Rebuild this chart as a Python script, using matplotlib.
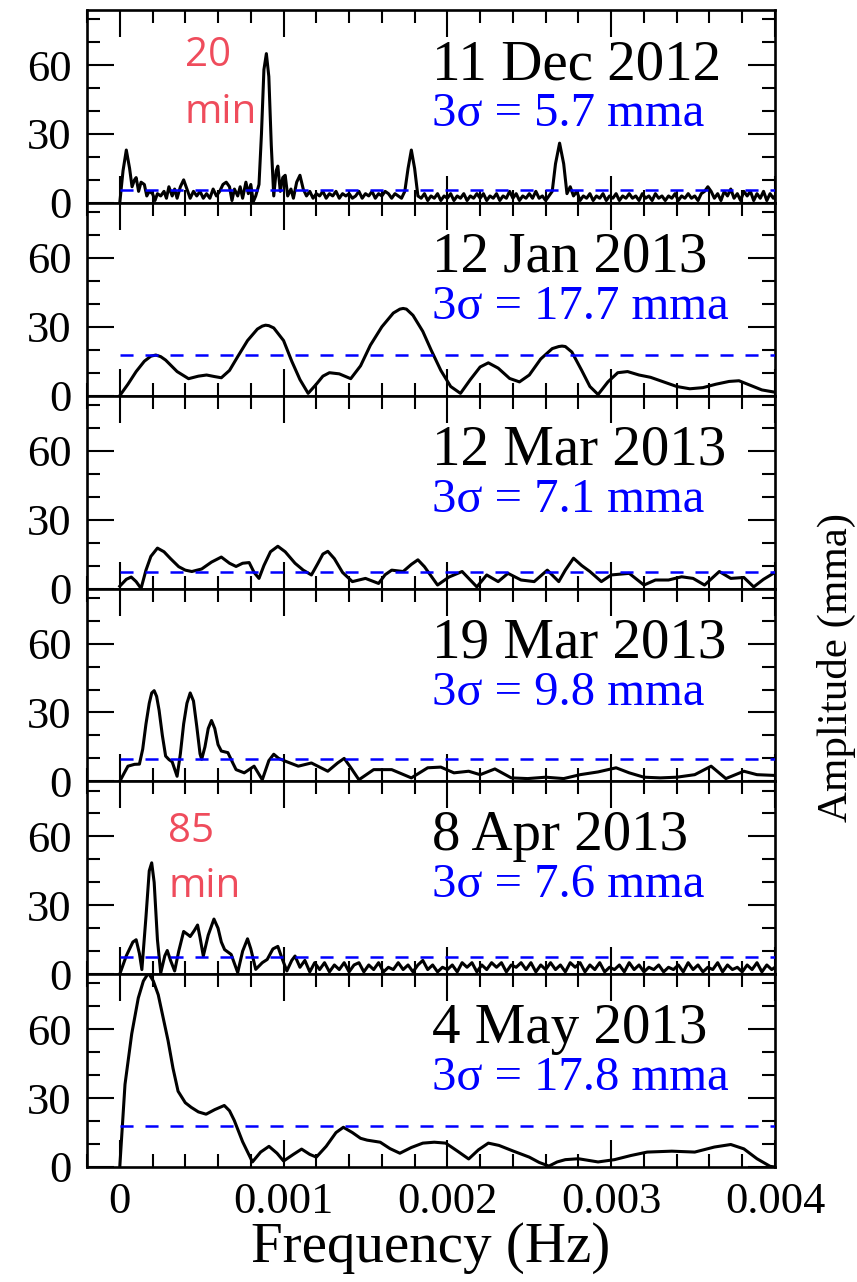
import numpy as np
import matplotlib
matplotlib.use("Agg")
import matplotlib.pyplot as plt
from matplotlib.ticker import MultipleLocator, FuncFormatter

# ---------------------------------------------------------------------------
# Amplitude spectra (frequency in mHz, amplitude in mma) for six nights
# ---------------------------------------------------------------------------
dates = ["11 Dec 2012", "12 Jan 2013", "12 Mar 2013",
         "19 Mar 2013", "8 Apr 2013", "4 May 2013"]
sigma3 = [5.7, 17.7, 7.1, 9.8, 7.6, 17.8]

f_dec11 = [0.00, 0.02, 0.04, 0.06, 0.075, 0.09, 0.10, 0.115, 0.13, 0.15, 0.165, 0.18, 0.20,
           0.215, 0.23, 0.25, 0.27, 0.285, 0.30, 0.32, 0.335, 0.35, 0.37, 0.39, 0.41, 0.43,
           0.45, 0.47, 0.49, 0.51, 0.53, 0.55, 0.57, 0.59, 0.61, 0.63, 0.65, 0.67, 0.685,
           0.70, 0.72, 0.735, 0.75, 0.77, 0.785, 0.80, 0.815, 0.83, 0.85, 0.865, 0.88,
           0.895, 0.91, 0.925, 0.94, 0.955, 0.965, 0.98, 0.995, 1.01, 1.025, 1.045, 1.06,
           1.08, 1.10, 1.12, 1.14, 1.16, 1.18, 1.20, 1.22, 1.24, 1.26, 1.28, 1.30, 1.32,
           1.34, 1.36, 1.38, 1.40, 1.42, 1.44, 1.46, 1.48, 1.50, 1.52, 1.54, 1.56, 1.58,
           1.60, 1.62, 1.64, 1.66, 1.68, 1.70, 1.72, 1.74, 1.76, 1.78, 1.80, 1.82, 1.84,
           1.86, 1.88, 1.90, 1.92, 1.94, 1.96, 1.98, 2.00, 2.02, 2.04, 2.06, 2.08, 2.10,
           2.12, 2.14, 2.16, 2.18, 2.20, 2.22, 2.24, 2.26, 2.28, 2.30, 2.32, 2.34, 2.36,
           2.38, 2.40, 2.42, 2.44, 2.46, 2.48, 2.50, 2.52, 2.54, 2.56, 2.58, 2.60, 2.62,
           2.64, 2.66, 2.685, 2.71, 2.73, 2.75, 2.77, 2.79, 2.81, 2.83, 2.85, 2.87, 2.89,
           2.91, 2.93, 2.95, 2.97, 2.99, 3.01, 3.03, 3.05, 3.07, 3.09, 3.11, 3.13, 3.15,
           3.17, 3.19, 3.21, 3.23, 3.25, 3.27, 3.29, 3.31, 3.33, 3.35, 3.37, 3.39, 3.41,
           3.43, 3.45, 3.47, 3.49, 3.51, 3.53, 3.55, 3.57, 3.59, 3.61, 3.63, 3.65, 3.67,
           3.69, 3.71, 3.73, 3.75, 3.77, 3.79, 3.81, 3.83, 3.85, 3.87, 3.89, 3.91, 3.93,
           3.95, 3.97, 3.99, 4.00]
a_dec11 = [0, 14, 23, 15, 7, 10, 11, 5, 9, 8, 3, 5, 4,
           1, 4, 3, 5, 2, 7, 3, 6, 2, 7, 10, 6, 2,
           5, 3, 5, 2, 4, 2, 6, 3, 5, 8, 9, 7, 1,
           6, 3, 7, 2, 9, 4, 8, 0.5, 3, 8, 30, 58,
           65, 55, 25, 3, 14, 16, 5, 11, 12, 3, 6, 2,
           9, 12, 6, 3, 5, 2, 4, 3, 5, 2, 4, 3, 5,
           2, 4, 3, 4, 2, 3, 5, 2, 4, 3, 5, 2, 4,
           3, 5, 4, 2, 4, 3, 2, 5, 15, 23, 15, 3, 2,
           4, 1, 3, 2, 4, 1, 3, 2, 4, 1, 3, 2, 4,
           1, 3, 2, 4, 2, 4, 1, 3, 2, 4, 1, 3, 2,
           5, 2, 4, 1, 3, 2, 4, 2, 5, 2, 3, 1, 3,
           5, 17, 26, 17, 4, 7, 3, 5, 1, 3, 2, 4, 1,
           3, 2, 4, 1, 3, 2, 4, 1, 3, 2, 4, 2, 3,
           1, 4, 2, 3, 1, 4, 2, 3, 1, 3, 2, 4, 1,
           3, 2, 4, 2, 3, 1, 4, 5, 7, 5, 2, 4, 1,
           5, 3, 6, 2, 4, 1, 5, 3, 5, 1, 4, 2, 5,
           1, 4, 2, 3]

f_jan12 = [0.00, 0.05, 0.10, 0.15, 0.19, 0.22, 0.25, 0.28, 0.35, 0.42, 0.48, 0.53, 0.58,
           0.62, 0.67, 0.72, 0.78, 0.84, 0.87, 0.89, 0.91, 0.94, 1.00, 1.05, 1.10, 1.15,
           1.20, 1.24, 1.28, 1.34, 1.41, 1.47, 1.53, 1.60, 1.67, 1.71, 1.73, 1.75, 1.79,
           1.85, 1.90, 1.96, 2.02, 2.08, 2.14, 2.20, 2.25, 2.31, 2.38, 2.44, 2.50, 2.57,
           2.64, 2.68, 2.70, 2.72, 2.76, 2.82, 2.87, 2.92, 2.98, 3.04, 3.10, 3.17, 3.24,
           3.32, 3.40, 3.48, 3.56, 3.64, 3.72, 3.78, 3.85, 3.92, 4.00]
a_jan12 = [0, 5, 10.5, 15, 17.2, 17.7, 17.0, 15.5, 10.5, 7.4, 8.5, 9, 8.3,
           7.8, 11, 17, 24, 29, 30.3, 30.7, 30.5, 29.5, 24, 15, 7, 1,
           5, 8.5, 10, 9.5, 7.4, 13, 22, 30, 36, 37.7, 38, 37.7, 35,
           28, 20, 11, 4, 1, 7, 12.5, 14.3, 12, 7.5, 6, 9, 16,
           20.5, 21.4, 21.6, 21.4, 19, 11, 4, 0.5, 6, 10, 10.5, 9, 8,
           6, 4, 3, 3.5, 5, 6.2, 6.5, 4.5, 2.5, 1.5]

f_mar12 = [0.00, 0.04, 0.07, 0.10, 0.13, 0.16, 0.19, 0.23, 0.27, 0.31, 0.36, 0.40, 0.44,
           0.50, 0.56, 0.62, 0.67, 0.71, 0.75, 0.79, 0.82, 0.85, 0.88, 0.92, 0.965, 1.01,
           1.07, 1.12, 1.17, 1.21, 1.24, 1.27, 1.31, 1.36, 1.42, 1.50, 1.58, 1.62, 1.66,
           1.73, 1.78, 1.82, 1.86, 1.94, 2.01, 2.09, 2.18, 2.24, 2.31, 2.37, 2.45, 2.53,
           2.61, 2.68, 2.72, 2.77, 2.82, 2.87, 2.94, 3.00, 3.11, 3.20, 3.27, 3.35, 3.43,
           3.50, 3.57, 3.66, 3.73, 3.81, 3.87, 3.93, 3.99]
a_mar12 = [1, 4, 5, 3, 0, 8, 14, 17.6, 16, 13, 9.5, 8, 7.4,
           8.5, 11.5, 13.7, 11, 9.6, 11, 11.3, 7, 4.4, 10, 16, 18.4, 16,
           11, 8, 5.9, 11, 15, 16.2, 13, 7, 3, 4.4, 2.2, 6, 8,
           7.4, 10.5, 12.5, 9.5, 1.5, 5, 7.4, 0.7, 5.9, 3, 6.6, 3.7, 3,
           8, 3, 8, 13.2, 10, 7.4, 3, 5.9, 6.6, 1.5, 3.7, 3.7, 5.1,
           4.4, 1.5, 7.4, 4.4, 4.8, 0.7, 4, 6.6]

f_mar19 = [0.00, 0.03, 0.05, 0.09, 0.12, 0.14, 0.16, 0.18, 0.195, 0.21, 0.225, 0.24, 0.26,
           0.28, 0.30, 0.32, 0.35, 0.37, 0.39, 0.41, 0.43, 0.45, 0.47, 0.49, 0.50, 0.52,
           0.54, 0.56, 0.58, 0.60, 0.62, 0.66, 0.69, 0.71, 0.76, 0.82, 0.87, 0.91, 0.94,
           0.97, 1.01, 1.09, 1.17, 1.27, 1.33, 1.37, 1.41, 1.46, 1.55, 1.66, 1.78, 1.88,
           1.96, 2.04, 2.13, 2.20, 2.29, 2.39, 2.49, 2.60, 2.71, 2.81, 2.92, 3.03, 3.11,
           3.20, 3.30, 3.40, 3.51, 3.61, 3.70, 3.81, 3.89, 3.99]
a_mar19 = [0, 4, 6.6, 7.4, 7.5, 14, 25, 34, 38.5, 39.5, 37, 31, 20,
           11, 9.5, 8.5, 2.2, 12, 25, 34, 38.5, 35, 24, 12, 9.6, 15,
           23, 26.5, 23, 16, 13.2, 12.5, 8, 5.1, 3.7, 6.6, 0.7, 9, 11.8,
           10, 8.8, 6.6, 8, 4.4, 8, 10, 6, 0.7, 5.1, 5.1, 1.5, 5.9,
           6.2, 3.7, 4.4, 2.9, 5.4, 1.5, 1.2, 1.8, 1.2, 2.9, 4.1, 5.9, 3.7,
           1.8, 1.5, 1.8, 2.9, 6.6, 1.2, 4.4, 2.9, 2.6]

f_apr08 = [0.00, 0.04, 0.08, 0.10, 0.12, 0.135, 0.16, 0.18, 0.195, 0.21, 0.23, 0.25, 0.275,
           0.29, 0.31, 0.335, 0.36, 0.39, 0.42, 0.43, 0.455, 0.475, 0.49, 0.51, 0.54, 0.575,
           0.60, 0.62, 0.64, 0.68, 0.72, 0.75, 0.78, 0.80, 0.83, 0.87, 0.90, 0.935, 0.965,
           0.99, 1.02, 1.05, 1.07, 1.10, 1.13, 1.16, 1.19, 1.22, 1.25, 1.28, 1.31, 1.34,
           1.37, 1.40, 1.43, 1.46, 1.49, 1.52, 1.55, 1.58, 1.61, 1.64, 1.67, 1.70, 1.73,
           1.76, 1.79, 1.82, 1.85, 1.88, 1.91, 1.94, 1.97, 2.00, 2.03, 2.06, 2.09, 2.12,
           2.15, 2.18, 2.21, 2.24, 2.27, 2.30, 2.33, 2.36, 2.39, 2.42, 2.45, 2.48, 2.51,
           2.54, 2.57, 2.60, 2.63, 2.66, 2.69, 2.72, 2.75, 2.78, 2.81, 2.84, 2.87, 2.90,
           2.93, 2.96, 2.99, 3.02, 3.05, 3.08, 3.11, 3.14, 3.17, 3.20, 3.23, 3.26, 3.29,
           3.32, 3.35, 3.38, 3.41, 3.44, 3.47, 3.50, 3.53, 3.56, 3.59, 3.62, 3.65, 3.68,
           3.71, 3.74, 3.77, 3.80, 3.83, 3.86, 3.89, 3.92, 3.95, 3.98, 4.00]
a_apr08 = [0, 8, 14, 15, 9, 2, 25, 45, 48.5, 40, 15, 0.5, 8,
           10.3, 6, 1.4, 10, 18.6, 17, 16.4, 19, 21.4, 16, 7.9, 17, 24,
           20, 14, 10.7, 8.6, 0.7, 10, 15.4, 11, 2.1, 5, 6.4, 11, 12.1,
           7, 1.4, 6, 7.9, 3, 6, 1, 5, 2, 5, 1, 4, 2,
           5, 1, 4, 5, 1, 4, 2, 5, 1, 3, 2, 5, 2,
           4, 1, 4, 6, 2, 4, 1, 3, 2, 4, 1, 5, 3,
           5, 1, 4, 2, 5, 3, 5, 1, 4, 3, 5, 2, 5,
           1, 4, 2, 5, 2, 4, 1, 5, 3, 5, 1, 4, 2,
           5, 1, 3, 2, 4, 1, 5, 2, 4, 1, 3, 2, 4,
           1, 3, 2, 4, 1, 5, 2, 4, 1, 3, 2, 5, 1,
           4, 2, 3, 1, 4, 2, 5, 1, 4, 2, 3]

f_may04 = [0.00, 0.032, 0.073, 0.113, 0.144, 0.175, 0.205, 0.235, 0.265, 0.295, 0.325,
           0.356, 0.40, 0.436, 0.48, 0.527, 0.58, 0.638, 0.67, 0.699, 0.75, 0.81, 0.86,
           0.911, 0.96, 1.00, 1.06, 1.11, 1.16, 1.20, 1.26, 1.32, 1.365, 1.42, 1.47, 1.51,
           1.59, 1.65, 1.71, 1.78, 1.85, 1.92, 1.99, 2.06, 2.13, 2.19, 2.25, 2.315, 2.40,
           2.50, 2.56, 2.62, 2.67, 2.72, 2.80, 2.92, 3.02, 3.12, 3.22, 3.37, 3.51, 3.63,
           3.73, 3.81, 3.89, 3.97, 4.00]
a_may04 = [0, 36, 58, 73.6, 81, 84.5, 81, 75, 65, 55, 43,
           33, 28, 26, 24, 23, 25, 26.8, 24.5, 20.3, 11, 2.2, 6.5,
           9, 6, 2.6, 5.5, 7.8, 5.5, 4.3, 9, 15, 17.3, 15, 12.5, 11.7,
           10.8, 8, 6, 8.5, 10.4, 10.8, 10.4, 7, 3.5, 7.5, 10.4, 9.4, 7,
           4.3, 2, 0.4, 2.2, 3.2, 3.6, 2.2, 3.2, 5, 6.5, 6.9, 6.5, 8.7,
           9.8, 7.9, 3.6, 0.3, 0]

freqs = [f_dec11, f_jan12, f_mar12, f_mar19, f_apr08, f_may04]
amps = [a_dec11, a_jan12, a_mar12, a_mar19, a_apr08, a_may04]

# Period annotations: panel index, value, unit, x and baselines in axes fraction
period_notes = [(0, "20", "min", 0.142, 0.711, 0.415),
                (4, "85", "min", 0.118, 0.685, 0.400)]

yticks_major = [0, 30, 60]
xtick_labels = {0.0: "0", 0.001: "0.001", 0.002: "0.002", 0.003: "0.003", 0.004: "0.004"}

# ---------------------------------------------------------------------------
serif = ["Liberation Serif", "DejaVu Serif"]
plt.rcParams["font.family"] = serif
plt.rcParams["lines.scale_dashes"] = False

W, H = 857, 1282
fig = plt.figure(figsize=(W / 100, H / 100), dpi=100)
gs = fig.add_gridspec(6, 1, left=87 / W, right=775 / W,
                      top=1 - 10 / H, bottom=1 - 1167 / H, hspace=0)

note_color = "#EF4C5C"
axes = []
for i in range(6):
    ax = fig.add_subplot(gs[i, 0], sharex=axes[0] if axes else None)
    axes.append(ax)
    f_hz = np.array(freqs[i]) * 1e-3
    ax.plot(f_hz, amps[i], color="black", lw=2.2, solid_joinstyle="round", zorder=2)
    ax.hlines(sigma3[i], 0.0, 0.004, colors="#0000FF", lw=1.8,
              linestyles=(0, (9.4, 8.6)), zorder=3)

    ax.set_xlim(-0.0002, 0.004)
    ax.set_ylim(0, 84)
    ax.xaxis.set_major_locator(MultipleLocator(0.001))
    ax.xaxis.set_minor_locator(MultipleLocator(0.0002))
    ax.set_yticks(yticks_major)
    ax.yaxis.set_minor_locator(MultipleLocator(10))
    ax.tick_params(which="both", direction="in", top=True, right=True,
                   width=1.5, labelsize=32, pad=11)
    ax.tick_params(which="major", length=19.5)
    ax.tick_params(which="minor", length=9.5)
    for sp in ax.spines.values():
        sp.set_linewidth(1.9)
    if i < 5:
        ax.tick_params(labelbottom=False)
    else:
        ax.xaxis.set_major_formatter(
            FuncFormatter(lambda v, p: xtick_labels.get(round(v, 4), "")))

    ax.text(0.502, 0.714, dates[i], transform=ax.transAxes, ha="left", va="center",
            fontsize=41, color="black")
    ax.text(0.502, 0.46, f"3σ = {sigma3[i]} mma", transform=ax.transAxes,
            ha="left", va="center", fontsize=35, color="#0000FF")

for idx, num, unit, xf, y1, y2 in period_notes:
    ax = axes[idx]
    ax.text(xf, y1, num, transform=ax.transAxes, ha="left", va="baseline",
            fontsize=29, color=note_color, family=["Open Sans", "DejaVu Sans"])
    ax.text(xf, y2, unit, transform=ax.transAxes, ha="left", va="baseline",
            fontsize=29, color=note_color, family=["Open Sans", "DejaVu Sans"])

fig.text(431 / W, 1 - 1248 / H, "Frequency (Hz)", ha="center", va="center", fontsize=41)
fig.text(836 / W, 1 - 668 / H, "Amplitude (mma)", ha="center", va="center",
         rotation=90, fontsize=31)

fig.savefig("out.png", dpi=100)
